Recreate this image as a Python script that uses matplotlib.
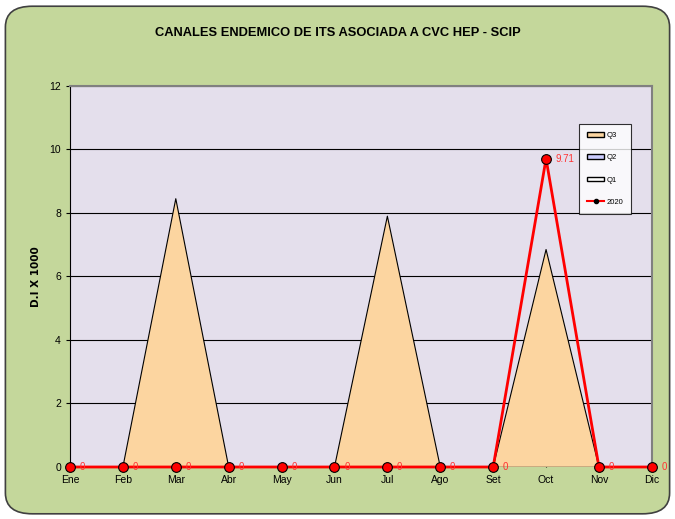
import matplotlib
matplotlib.use("Agg")
import matplotlib.pyplot as plt
from matplotlib.patches import FancyBboxPatch
from matplotlib.lines import Line2D
from matplotlib.patches import Patch

meses = ["Ene", "Feb", "Mar", "Abr", "May", "Jun", "Jul", "Ago", "Set", "Oct", "Nov", "Dic"]
q3 = [0, 0, 8.45, 0, 0, 0, 7.9, 0, 0, 6.85, 0, 0]
q2 = [0, 0, 0, 0, 0, 0, 0, 0, 0, 0, 0, 0]
q1 = [0, 0, 0, 0, 0, 0, 0, 0, 0, 0, 0, 0]
casos_2020 = [0, 0, 0, 0, 0, 0, 0, 0, 0, 9.71, 0, 0]

plt.rcParams['font.family'] = ['Liberation Sans', 'DejaVu Sans']

fig = plt.figure(figsize=(6.75, 5.19), dpi=100)
fig.patch.set_facecolor("white")

# fondo verde redondeado
marco = FancyBboxPatch((0.008, 0.01), 0.984, 0.978, boxstyle="round,pad=0,rounding_size=0.04",
                       transform=fig.transFigure, facecolor="#c4d79b", edgecolor="#404040",
                       linewidth=1.2, zorder=-1)
fig.patches.append(marco)

ax = fig.add_axes([0.1037, 0.1002, 0.862, 0.7341])
ax.set_facecolor("#e4dfec")
x = list(range(len(meses)))

ax.fill_between(x, 0, q3, facecolor="#fcd5a0", edgecolor="none", zorder=2)
ax.plot(x, q3, color="black", linewidth=0.8, zorder=3)
ax.fill_between(x, 0, q2, facecolor="#ccccff", edgecolor="none", zorder=3)
ax.fill_between(x, 0, q1, facecolor="white", edgecolor="none", zorder=3)
ax.plot(x, q1, color="black", linewidth=1.0, zorder=3)

ax.plot(x, casos_2020, color="red", linewidth=2, marker="o", markersize=7,
        markerfacecolor="red", markeredgecolor="black", markeredgewidth=0.8, zorder=5,
        clip_on=False)
for xi, v in zip(x, casos_2020):
    txt = "0" if v == 0 else f"{v:.2f}"
    ax.annotate(txt, (xi, v), xytext=(7, 0), textcoords="offset points",
                color="#ff3333", fontsize=7, va="center", ha="left", zorder=6,
                annotation_clip=False)

ax.set_xlim(0, 11)
ax.set_ylim(0, 12)
ax.set_yticks(range(0, 13, 2))
ax.set_xticks(x)
ax.set_xticklabels(meses, fontsize=7.5)
ax.tick_params(axis="y", labelsize=7.5, length=3, direction="out")
ax.tick_params(axis="x", length=3, direction="in", pad=6)
ax.grid(axis="y", color="black", linewidth=0.8, zorder=1)
ax.set_axisbelow(True)
ax.spines["bottom"].set_visible(False)
ax.spines["top"].set_color("#808080")
ax.spines["top"].set_linewidth(1.5)
ax.spines["left"].set_color("black")
ax.spines["right"].set_color("#808080")
ax.spines["right"].set_linewidth(1.5)

ax.set_ylabel("D.I X 1000", fontsize=7.5, fontweight="bold", family="DejaVu Sans")
ax.yaxis.set_label_coords(-0.05, 0.5)

fig.text(0.5, 0.936, "CANALES ENDEMICO DE ITS ASOCIADA A CVC HEP - SCIP",
         ha="center", va="center", fontsize=9.3, fontweight="bold")

handles = [
    Patch(facecolor="#fcd5a0", edgecolor="black", label="Q3"),
    Patch(facecolor="#ccccff", edgecolor="black", label="Q2"),
    Patch(facecolor="white", edgecolor="black", label="Q1"),
    Line2D([0], [0], color="red", linewidth=1.5, marker="o", markersize=3,
           markerfacecolor="black", markeredgecolor="black", label="2020"),
]
leg = ax.legend(handles=handles, loc="upper left", bbox_to_anchor=(0.875, 0.9),
                fontsize=5.5, frameon=True, fancybox=False, edgecolor="black",
                handlelength=2.3, handleheight=0.6, labelspacing=2.0,
                borderpad=1.0, handletextpad=0.3, borderaxespad=0)
leg.get_frame().set_linewidth(0.8)
leg.get_frame().set_facecolor("white")

fig.savefig("out.png", dpi=100)
